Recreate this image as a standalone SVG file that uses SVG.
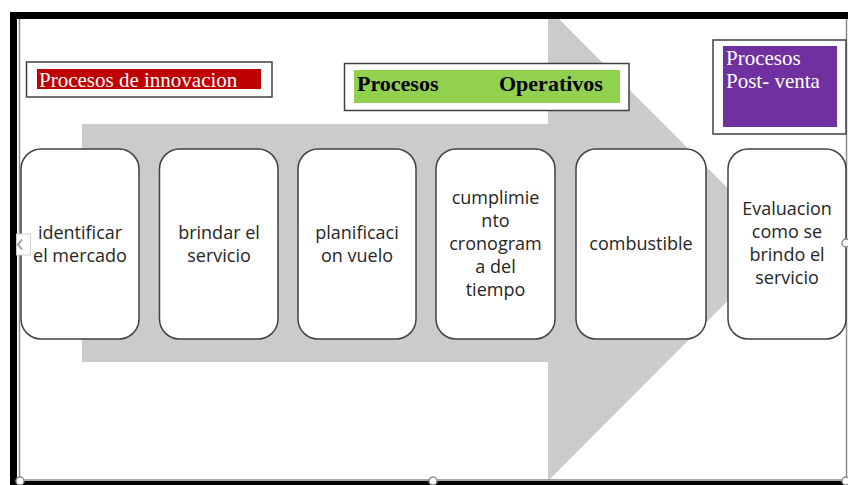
<svg xmlns="http://www.w3.org/2000/svg" width="848" height="485" viewBox="0 0 848 485">
  <style>
    .step rect { fill: #ffffff; stroke: #404040; stroke-width: 1.5; }
    .step text { font-family: "Open Sans", "Liberation Sans", sans-serif; font-size: 18px; fill: #262626; text-anchor: middle; }
    .frame rect.outer { fill: #ffffff; stroke: #404040; stroke-width: 1.5; }
    .serif { font-family: "Liberation Serif", "Times New Roman", serif; }
    .handle { fill: #ffffff; stroke: #8c8c8c; stroke-width: 1.5; }
  </style>

  <rect x="0" y="0" width="848" height="485" fill="#ffffff"/>

  <!-- large background arrow -->
  <polygon id="flow-arrow" fill="#cbcbcb"
           points="82,124 548,124 548,19 559,19 784,244.5 548,481 548,362 82,362"/>

  <!-- page frame -->
  <g id="page-frame">
    <rect x="10" y="12" width="838" height="7" fill="#000000"/>
    <rect x="10" y="12" width="7" height="473" fill="#000000"/>
    <rect x="10" y="481" width="838" height="4" fill="#000000"/>
    <line x1="19.5" y1="19" x2="19.5" y2="480" stroke="#8c8c8c" stroke-width="1.5"/>
    <line x1="19" y1="480" x2="846" y2="480" stroke="#8c8c8c" stroke-width="1.5"/>
    <line x1="846.5" y1="19" x2="846.5" y2="480" stroke="#8c8c8c" stroke-width="1.5"/>
  </g>

  <!-- section headers -->
  <g id="hdr-innovacion" class="frame">
    <rect class="outer" x="26.5" y="62" width="245.5" height="35"/>
    <rect x="37" y="69" width="224" height="20" fill="#c00000"/>
    <text class="serif" x="39" y="87" font-size="21" fill="#ffffff">Procesos de innovacion</text>
  </g>

  <g id="hdr-operativos" class="frame">
    <rect class="outer" x="344.5" y="63.5" width="284.5" height="47"/>
    <rect x="354" y="70" width="266" height="33" fill="#92d050"/>
    <text class="serif" x="357" y="91" font-size="22" font-weight="bold" fill="#000000">Procesos</text>
    <text class="serif" x="499" y="91" font-size="22" font-weight="bold" fill="#000000">Operativos</text>
  </g>

  <g id="hdr-postventa" class="frame">
    <rect class="outer" x="713" y="40" width="133" height="94"/>
    <rect x="723" y="46" width="114" height="81" fill="#7030a0"/>
    <text class="serif" x="726" y="65" font-size="21" fill="#ffffff">Procesos</text>
    <text class="serif" x="726" y="88" font-size="21" fill="#ffffff">Post- venta</text>
  </g>

  <!-- process steps -->
  <g id="step-1" class="step">
    <rect x="21" y="149" width="118" height="190" rx="20"/>
    <text x="80" y="239">identificar</text>
    <text x="80" y="262">el mercado</text>
  </g>

  <g id="step-2" class="step">
    <rect x="159.5" y="149" width="118.5" height="190" rx="20"/>
    <text x="219" y="239">brindar el</text>
    <text x="219" y="262">servicio</text>
  </g>

  <g id="step-3" class="step">
    <rect x="298" y="149" width="118" height="190" rx="20"/>
    <text x="357" y="239">planificaci</text>
    <text x="357" y="262">on vuelo</text>
  </g>

  <g id="step-4" class="step">
    <rect x="436" y="149" width="119" height="190" rx="20"/>
    <text x="495.5" y="204">cumplimie</text>
    <text x="495.5" y="227">nto</text>
    <text x="495.5" y="250">cronogram</text>
    <text x="495.5" y="273">a del</text>
    <text x="495.5" y="296">tiempo</text>
  </g>

  <g id="step-5" class="step">
    <rect x="576" y="149" width="130" height="190" rx="20"/>
    <text x="641" y="250">combustible</text>
  </g>

  <g id="step-6" class="step">
    <rect x="728" y="149" width="118" height="190" rx="20"/>
    <text x="787" y="215">Evaluacion</text>
    <text x="787" y="238">como se</text>
    <text x="787" y="261">brindo el</text>
    <text x="787" y="284">servicio</text>
  </g>

  <!-- selection handles -->
  <g id="handles">
    <circle class="handle" cx="20" cy="481" r="4"/>
    <circle class="handle" cx="433" cy="481" r="4"/>
    <circle class="handle" cx="846" cy="481" r="4"/>
    <circle class="handle" cx="846" cy="243" r="4"/>
    <rect x="16.5" y="234" width="14" height="21" fill="#ffffff" stroke="#d0d0d0" stroke-width="1"/>
    <polyline points="22,239.5 18,244.5 22,249.5" fill="none" stroke="#a0a0a0" stroke-width="2"/>
  </g>
</svg>
